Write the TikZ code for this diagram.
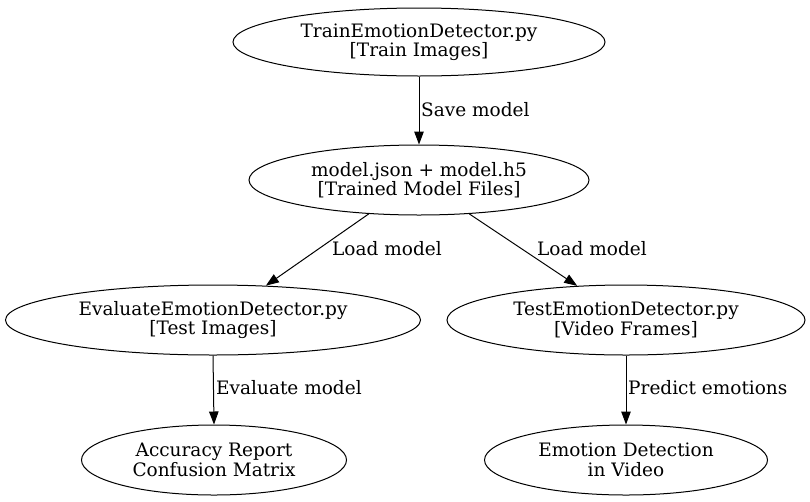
\documentclass[tikz,border=0pt]{standalone}
\usepackage{fontspec}
\setmainfont{DejaVu Serif}
\usetikzlibrary{shapes.geometric,arrows.meta}
\tikzset{
  box/.style={draw, ellipse, line width=1pt, inner sep=0pt, align=center,
    font=\fontsize{18.5}{19.5}\selectfont},
  edge/.style={line width=1pt, -{Triangle[length=13pt,width=9.5pt]}},
  lbl/.style={anchor=west, inner sep=0pt, font=\fontsize{18.5}{19.5}\selectfont}
}
\begin{document}
\begin{tikzpicture}[x=1pt,y=-1pt]
\useasboundingbox (0,0) rectangle (810,501);
\node[box, minimum width=372pt, minimum height=68pt] (t) at (419,42) {TrainEmotionDetector.py\\{}[Train Images]};
\node[box, minimum width=340pt, minimum height=70pt] (m) at (419,180) {model.json + model.h5\\{}[Trained Model Files]};
\node[box, minimum width=415pt, minimum height=70pt] (e) at (213,320) {EvaluateEmotionDetector.py\\{}[Test Images]};
\node[box, minimum width=358pt, minimum height=70pt] (s) at (626,320) {TestEmotionDetector.py\\{}[Video Frames]};
\node[box, minimum width=265pt, minimum height=70pt] (a) at (214,460) {Accuracy Report\\Confusion Matrix};
\node[box, minimum width=283pt, minimum height=70pt] (v) at (626,460) {Emotion Detection\\in Video};

\draw[edge] (t.south) -- (m.north);
\draw[edge] (m.214) -- (e.33);
\draw[edge] (m.326) -- (s.145.5);
\draw[edge] (e.south) -- (a.north);
\draw[edge] (s.south) -- (v.north);

\node[lbl] (l1) at (421,110) {Save model};
\node[lbl] (l2) at (332,249) {Load model};
\node[lbl] (l3) at (537,249) {Load model};
\node[lbl] (l4) at (216,388) {Evaluate model};
\node[lbl] (l5) at (628,388) {Predict emotions};
\end{tikzpicture}
\end{document}
